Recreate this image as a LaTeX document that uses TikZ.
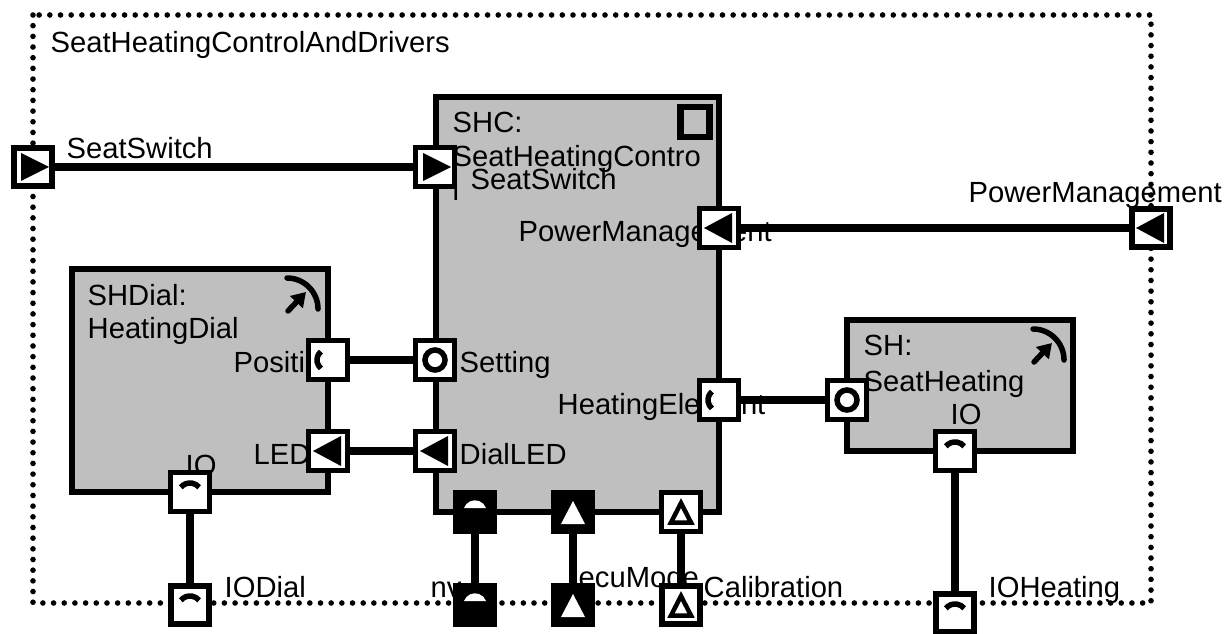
\documentclass[tikz,border=0pt]{standalone}
\usepackage{fontspec}
\setmainfont{Liberation Sans}
\usetikzlibrary{arrows.meta}
\tikzset{
  swc/.style={draw, fill=black!25, line width=.056cm},
  lbl/.style={anchor=base west, inner sep=0, align=left, font=\fontsize{8.3}{9.96}\selectfont},
  wire/.style={line width=.085cm, line cap=round},
  port/.style={draw, fill=white, line width=.052cm, minimum size=.39cm, inner sep=0},
  delegate/.style={line width=.06cm, minimum size=.38cm},
  blackport/.style={fill=black},
  triright/.style={path picture={\fill[black, shift={(path picture bounding box.center)}] (-12,-14) -- (16,0) -- (-12,14) -- cycle;}},
  trileft/.style={path picture={\fill[black, shift={(path picture bounding box.center)}] (13,-15) -- (-15,0) -- (13,15) -- cycle;}},
  triup/.style={path picture={\draw[line width=.045cm, shift={(path picture bounding box.center)}] (0,-9) -- (10,10.5) -- (-10,10.5) -- cycle;}},
  triupwhite/.style={path picture={\fill[white, shift={(path picture bounding box.center)}] (0,-11) -- (12,12) -- (-12,12) -- cycle;}},
  ring/.style={path picture={\draw[line width=.055cm, shift={(path picture bounding box.center)}] (0,0) circle[radius=.1cm];}},
  socket/.style={path picture={\draw[line width=.055cm, shift={(path picture bounding box.center)}] (0,0) ++(130:.11cm) arc[start angle=130, end angle=230, radius=.11cm];}},
  arch/.style={path picture={\draw[line width=.055cm, shift={(path picture bounding box.center)}] (0,3) ++(140:.12cm) arc[start angle=140, end angle=40, radius=.12cm];}},
  dome/.style={path picture={\fill[white, shift={(path picture bounding box.center)}] (-11,-4) arc[start angle=160, end angle=20, radius=.117cm] -- cycle;}},
  dialmark/.pic={
    \draw[line width=.055cm, line cap=round] (0,0) arc[start angle=90, end angle=0, radius=.31cm];
    \draw[line width=.055cm, line cap=round, -{Triangle[length=.14cm, width=.17cm]}] (1,33) -- (19,14);
  }
}

\begin{document}
\begin{tikzpicture}[x=.01cm, y=-.01cm]
\useasboundingbox (0,0) rectangle (1225,634);

\draw[line width=.056cm, line cap=round, dash pattern=on 0pt off .1067cm] (33,15) rectangle (1151,603);
\node[lbl](title) at (50,53) {SeatHeatingControlAndDrivers};

\node[swc, minimum width=2.83cm, minimum height=4.15cm](shc) at (577.5,304.5) {};
\node[swc, minimum width=2.56cm, minimum height=2.23cm](shdial) at (200,380.5) {};
\node[swc, minimum width=2.26cm, minimum height=1.31cm](sh) at (960,385.5) {};

\node[draw, line width=.065cm, minimum width=.29cm, minimum height=.3cm, inner sep=0](shcmark) at (695,122) {};
\pic at (287,278) {dialmark};
\pic at (1033,329) {dialmark};

\node[lbl](shcname) at (452,133) {SHC:};
\node[lbl](shctype) at (452,167) {SeatHeatingContro};
\node[lbl](shcwrap) at (452,201) {l};
\node[lbl](shdialname) at (87,305) {SHDial:};
\node[lbl](shdialtype) at (87,338) {HeatingDial};
\node[lbl](shname) at (863,356) {SH:};
\node[lbl](shtype) at (863,391) {SeatHeating};

\node[lbl](l1) at (66,159) {SeatSwitch};
\node[lbl](l2) at (470,190) {SeatSwitch};
\node[lbl](l3) at (518,242) {PowerManagement};
\node[lbl](l4) at (968,203) {PowerManagement};
\node[lbl](l5) at (233,373) {Position};
\node[lbl](l6) at (253,464) {LED};
\node[lbl](l7) at (459,373) {Setting};
\node[lbl](l8) at (459,464) {DialLED};
\node[lbl](l9) at (557,414) {HeatingElement};
\node[lbl](l10) at (950,424) {IO};
\node[lbl](l11) at (185,475) {IO};
\node[lbl](l12) at (224,597) {IODial};
\node[lbl](l13) at (430,597) {nv};
\node[lbl](l14) at (578,587) {ecuMode};
\node[lbl](l15) at (703,597) {Calibration};
\node[lbl](l16) at (988,597) {IOHeating};

\node[port, delegate, triright](seatswitch) at (33,167) {};
\node[port, triright](shcswitch) at (435,167) {};
\node[port, trileft](shcpower) at (719,228) {};
\node[port, delegate, trileft](power) at (1151,228) {};
\node[port, socket](position) at (328,360) {};
\node[port, ring](setting) at (435,360) {};
\node[port, trileft](led) at (328,451) {};
\node[port, trileft](dialled) at (435,451) {};
\node[port, socket](heatingelement) at (719,400) {};
\node[port, ring](shring) at (847,400) {};
\node[port, arch](dialio) at (190,492) {};
\node[port, delegate, arch](iodial) at (190,605) {};
\node[port, arch](shio) at (955,451) {};
\node[port, delegate, arch](ioheating) at (955,613) {};
\node[port, blackport, dome](nvtop) at (475,512) {};
\node[port, delegate, blackport, dome](nvbottom) at (475,605) {};
\node[port, blackport, triupwhite](ecutop) at (573,512) {};
\node[port, delegate, blackport, triupwhite](ecubottom) at (573,605) {};
\node[port, triup](caltop) at (681,512) {};
\node[port, delegate, triup](calbottom) at (681,605) {};

\draw[wire] (seatswitch) -- (shcswitch);
\draw[wire] (shcpower) -- (power);
\draw[wire] (position) -- (setting);
\draw[wire] (led) -- (dialled);
\draw[wire] (heatingelement) -- (shring);
\draw[wire] (dialio) -- (iodial);
\draw[wire] (shio) -- (ioheating);
\draw[wire] (nvtop) -- (nvbottom);
\draw[wire] (ecutop) -- (ecubottom);
\draw[wire] (caltop) -- (calbottom);
\end{tikzpicture}
\end{document}
